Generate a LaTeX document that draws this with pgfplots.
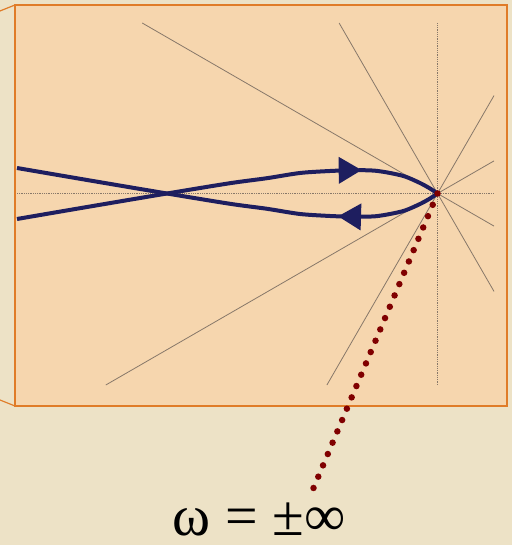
\documentclass[border=0pt]{standalone}
\usepackage{pgfplots}
\pgfplotsset{compat=1.18}
\usetikzlibrary{arrows.meta}
\usepackage{fontspec}
\setmainfont{Liberation Serif}

\definecolor{pagebg}{RGB}{237,226,198}
\definecolor{panel}{RGB}{246,214,174}
\definecolor{frame}{RGB}{224,124,40}
\definecolor{ray}{RGB}{135,120,105}
\definecolor{locus}{RGB}{30,30,95}
\definecolor{infdot}{RGB}{128,0,0}

\begin{document}
\begin{tikzpicture}
\path[use as bounding box] (0,0) rectangle (512bp,545bp);
% page and panel
\fill[pagebg] (0,0) rectangle (512bp,545bp);
\draw[frame, line width=1.2bp] (0bp,534bp) -- (15bp,540bp);
\draw[frame, line width=1.2bp] (0bp,145bp) -- (15bp,139bp);
\filldraw[fill=panel, draw=frame, line width=1.5bp] (15bp,139bp) rectangle (507bp,540bp);

\begin{axis}[
  scale only axis, width=512bp, height=545bp,
  xmin=-4.375, xmax=0.745, ymin=-3.515, ymax=1.935,
  axis lines=none, clip=false,
]
% real and imaginary axes
\addplot[ray, line width=0.8bp, densely dotted] coordinates {(-4.205,0) (0.565,0)};
\addplot[ray, line width=0.8bp, densely dotted] coordinates {(0,-1.915) (0,1.705)};
% radial guide lines every 30 degrees
\addplot[ray, line width=0.8bp] coordinates {(0,0) (0.565,0.326)};
\addplot[ray, line width=0.8bp] coordinates {(0,0) (0.565,0.979)};
\addplot[ray, line width=0.8bp] coordinates {(0,0) (-0.984,1.705)};
\addplot[ray, line width=0.8bp] coordinates {(0,0) (-2.953,1.705)};
\addplot[ray, line width=0.8bp] coordinates {(0,0) (-3.317,-1.915)};
\addplot[ray, line width=0.8bp] coordinates {(0,0) (-1.106,-1.915)};
\addplot[ray, line width=0.8bp] coordinates {(0,0) (0.565,-0.979)};
\addplot[ray, line width=0.8bp] coordinates {(0,0) (0.565,-0.326)};

% Nyquist locus, positive frequencies
\addplot[locus, line width=4bp, smooth, tension=0.5,
  -{Triangle[length=23bp, width=26bp]}] coordinates {
  (-4.205,-0.255) (-3.475,-0.13) (-2.705,0) (-2.075,0.103) (-1.705,0.153)
  (-1.375,0.205) (-1.075,0.225) (-0.875,0.232) (-0.758,0.234)};
\addplot[locus, line width=4bp, smooth, tension=0.5] coordinates {
  (-0.79,0.234) (-0.625,0.228) (-0.475,0.205) (-0.325,0.17) (-0.175,0.105)
  (-0.075,0.05) (0,0)};
% Nyquist locus, negative frequencies
\addplot[locus, line width=4bp, smooth, tension=0.5,
  -{Triangle[length=23bp, width=26bp]}] coordinates {
  (0,0) (-0.075,-0.05) (-0.175,-0.105) (-0.325,-0.17) (-0.475,-0.205)
  (-0.625,-0.228) (-0.8,-0.232) (-0.995,-0.228)};
\addplot[locus, line width=4bp, smooth, tension=0.5] coordinates {
  (-0.96,-0.229) (-1.075,-0.225) (-1.375,-0.205) (-1.705,-0.153)
  (-2.075,-0.103) (-2.705,0) (-3.475,0.13) (-4.205,0.255)};

% omega = +-infinity pointer
\addplot[infdot, line width=6.5bp, line cap=round, dash pattern=on 0pt off 12.29bp]
  coordinates {(0,0) (-1.24,-2.945)};
\end{axis}

\node[anchor=base, inner sep=0pt, font=\fontsize{58}{60}\selectfont] at (259bp,10bp) {ω = ±∞};
\end{tikzpicture}
\end{document}
